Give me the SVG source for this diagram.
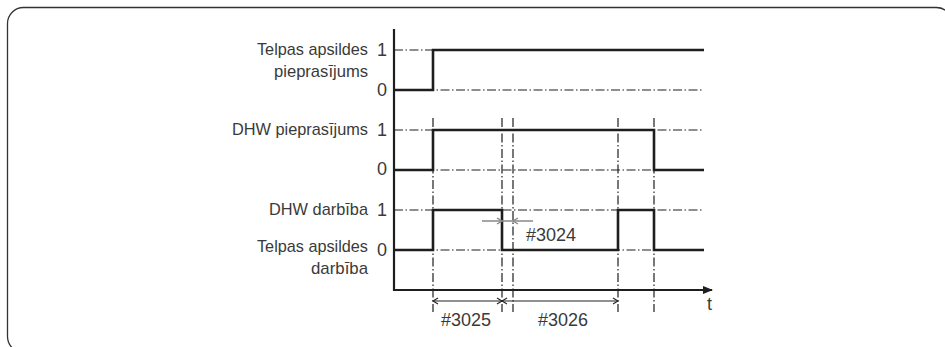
<svg xmlns="http://www.w3.org/2000/svg" width="945" height="347" viewBox="0 0 945 347">
  <style>
    .lbl { font-family: "Liberation Sans", Arial, sans-serif; font-size: 17px; fill: #3a3a3a; }
    .num { font-family: "Liberation Sans", Arial, sans-serif; font-size: 18px; fill: #3a3a3a; }
    .grid { stroke: #1e1e1e; stroke-width: 1.2; stroke-dasharray: 9 2.5 1.5 2.5; fill: none; }
    .sig { stroke: #1e1e1e; stroke-width: 2.6; fill: none; stroke-linejoin: miter; }
    .axis { stroke: #1e1e1e; stroke-width: 2.2; fill: none; }
    .dim { stroke: #222; stroke-width: 1.1; fill: none; }
    .dimg { stroke: #888; stroke-width: 1.4; fill: none; }
  </style>
  <defs>
    <marker id="axisHead" markerWidth="10" markerHeight="8" refX="9" refY="4" orient="auto" markerUnits="userSpaceOnUse">
      <path d="M0,0 L10,4 L0,8 Z" fill="#1e1e1e"/>
    </marker>
  </defs>

  <!-- outer frame -->
  <rect x="7.5" y="7.5" width="945" height="345" rx="16" fill="none" stroke="#333" stroke-width="1.3"/>

  <!-- level and time guide lines -->
  <g id="guides">
    <line class="grid" x1="394" y1="50" x2="704" y2="50"/>
    <line class="grid" x1="394" y1="90" x2="704" y2="90"/>
    <line class="grid" x1="394" y1="130" x2="704" y2="130"/>
    <line class="grid" x1="394" y1="170" x2="704" y2="170"/>
    <line class="grid" x1="394" y1="210" x2="704" y2="210"/>
    <line class="grid" x1="394" y1="250" x2="704" y2="250"/>
    <line class="grid" x1="433" y1="118" x2="433" y2="312"/>
    <line class="grid" x1="502" y1="118" x2="502" y2="312"/>
    <line class="grid" x1="513" y1="118" x2="513" y2="312"/>
    <line class="grid" x1="618" y1="118" x2="618" y2="312"/>
    <line class="grid" x1="654" y1="118" x2="654" y2="312"/>
  </g>

  <!-- axes -->
  <g id="axes">
    <line class="axis" x1="394" y1="29" x2="394" y2="291"/>
    <line class="axis" x1="393" y1="290" x2="712" y2="290" marker-end="url(#axisHead)"/>
    <text class="num" x="707" y="310">t</text>
  </g>

  <!-- signal: space heating request -->
  <g id="space-heating-request">
    <path class="sig" d="M394,90 H433 V50 H704"/>
    <text class="lbl" x="368" y="55" text-anchor="end" textLength="111" lengthAdjust="spacingAndGlyphs">Telpas apsildes</text>
    <text class="lbl" x="368" y="77" text-anchor="end" textLength="94" lengthAdjust="spacingAndGlyphs">pieprasījums</text>
    <text class="num" x="377" y="56">1</text>
    <text class="num" x="377" y="96">0</text>
  </g>

  <!-- signal: DHW request -->
  <g id="dhw-request">
    <path class="sig" d="M394,170 H433 V130 H654 V170 H704"/>
    <text class="lbl" x="368" y="135" text-anchor="end" textLength="136" lengthAdjust="spacingAndGlyphs">DHW pieprasījums</text>
    <text class="num" x="377" y="136">1</text>
    <text class="num" x="377" y="175">0</text>
  </g>

  <!-- signal: DHW operation / space heating operation -->
  <g id="dhw-operation">
    <path class="sig" d="M394,250 H433 V210 H502 V250 H618 V210 H654 V250 H704"/>
    <text class="lbl" x="368" y="215" text-anchor="end" textLength="99" lengthAdjust="spacingAndGlyphs">DHW darbība</text>
    <text class="lbl" x="368" y="252" text-anchor="end" textLength="111" lengthAdjust="spacingAndGlyphs">Telpas apsildes</text>
    <text class="lbl" x="368" y="274" text-anchor="end" textLength="57" lengthAdjust="spacingAndGlyphs">darbība</text>
    <text class="num" x="377" y="216">1</text>
    <text class="num" x="377" y="256">0</text>
  </g>

  <!-- timing dimensions -->
  <g id="connectors">
    <!-- #3024 -->
    <line class="dimg" x1="482" y1="221" x2="533" y2="221"/>
    <path class="dimg" d="M497,218 L502,221 L497,224"/>
    <path class="dimg" d="M518,218 L513,221 L518,224"/>
    <!-- #3025 -->
    <line class="dim" x1="433" y1="301" x2="502" y2="301"/>
    <path class="dim" d="M438,298 L433,301 L438,304"/>
    <path class="dim" d="M497,298 L502,301 L497,304"/>
    <!-- #3026 -->
    <line class="dim" x1="502" y1="301" x2="618" y2="301"/>
    <path class="dim" d="M507,298 L502,301 L507,304"/>
    <path class="dim" d="M613,298 L618,301 L613,304"/>
  </g>

  <g id="timing-labels">
    <text class="num" x="526" y="241">#3024</text>
    <text class="num" x="441" y="326">#3025</text>
    <text class="num" x="538" y="326">#3026</text>
  </g>
</svg>
